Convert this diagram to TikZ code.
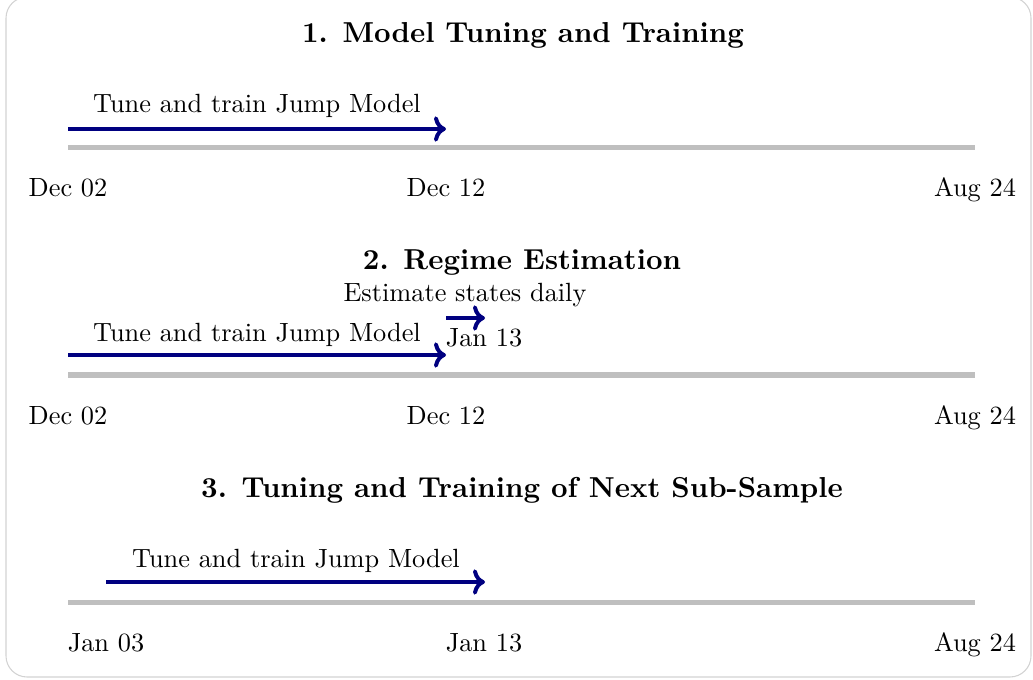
\documentclass[tikz,border=0pt]{standalone}
\usetikzlibrary{arrows.meta}
\begin{document}
\begin{tikzpicture}[x=0.3797pt,y=-0.3797pt,
  axisline/.style={line width=1.9pt,draw=gray!50},
  phasearrow/.style={line width=1.5pt,draw=blue!50!black,-{To[length=4.6pt,width=9.6pt]}},
  datelbl/.style={anchor=base,inner sep=0pt,font=\normalsize},
  phaselbl/.style={anchor=base,inner sep=0pt,font=\normalsize},
  titlelbl/.style={anchor=base,inner sep=0pt,font=\fontsize{10.95}{13}\selectfont\bfseries}]
\useasboundingbox (0,0) rectangle (1033,679);
\draw[gray!35,line width=0.4pt,rounded corners=8] (6,-3) rectangle (1031,677);

% Section 1
\node[titlelbl] (t1) at (523,43) {1. Model Tuning and Training};
\coordinate (a1s) at (68,148); \coordinate (a1e) at (975,148);
\draw[axisline] (a1s) -- (a1e);
\coordinate (p1s) at (68,129); \coordinate (p1e) at (446,129);
\draw[phasearrow] (p1s) -- (p1e);
\node[phaselbl] (l1) at (257,113) {Tune and train Jump Model};
\node[datelbl] (d1a) at (68,197) {Dec 02};
\node[datelbl] (d1b) at (446,197) {Dec 12};
\node[datelbl] (d1c) at (975,197) {Aug 24};

% Section 2
\node[titlelbl] (t2) at (522,270) {2. Regime Estimation};
\coordinate (a2s) at (68,375); \coordinate (a2e) at (975,375);
\draw[axisline] (a2s) -- (a2e);
\coordinate (p2s) at (68,355); \coordinate (p2e) at (446,355);
\draw[phasearrow] (p2s) -- (p2e);
\node[phaselbl] (l2) at (257,341) {Tune and train Jump Model};
\coordinate (q2s) at (446,318); \coordinate (q2e) at (485,318);
\draw[phasearrow] (q2s) -- (q2e);
\node[phaselbl] (e2) at (465,302) {Estimate states daily};
\node[datelbl] (j2) at (484,346) {Jan 13};
\node[datelbl] (d2a) at (68,424) {Dec 02};
\node[datelbl] (d2b) at (446,424) {Dec 12};
\node[datelbl] (d2c) at (975,424) {Aug 24};

% Section 3
\node[titlelbl] (t3) at (522,497) {3. Tuning and Training of Next Sub-Sample};
\coordinate (a3s) at (68,602); \coordinate (a3e) at (975,602);
\draw[axisline] (a3s) -- (a3e);
\coordinate (p3s) at (106,582); \coordinate (p3e) at (485,582);
\draw[phasearrow] (p3s) -- (p3e);
\node[phaselbl] (l3) at (296,567) {Tune and train Jump Model};
\node[datelbl] (d3a) at (106,651) {Jan 03};
\node[datelbl] (d3b) at (484,651) {Jan 13};
\node[datelbl] (d3c) at (975,651) {Aug 24};
\end{tikzpicture}
\end{document}
